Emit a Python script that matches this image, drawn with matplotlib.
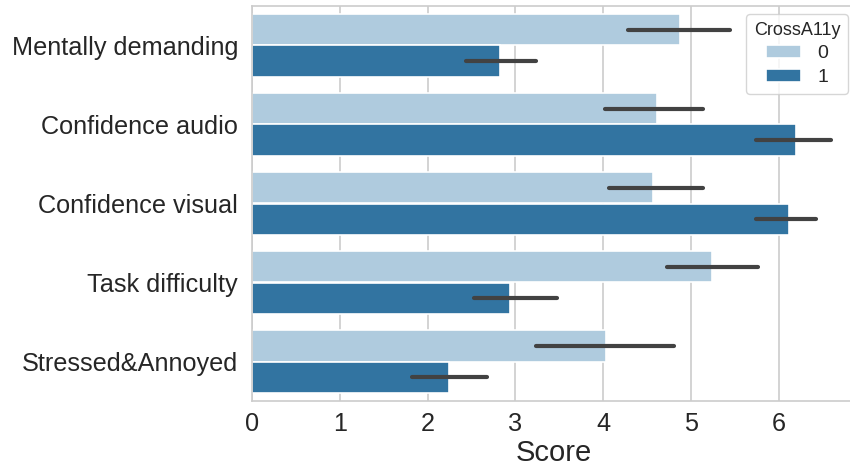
import numpy as np
import matplotlib
matplotlib.use("Agg")
import matplotlib.pyplot as plt

categories = ["Mentally demanding", "Confidence audio", "Confidence visual",
              "Task difficulty", "Stressed&Annoyed"]
hue_levels = ["0", "1"]
means_0 = [4.87, 4.61, 4.57, 5.24, 4.03]
ci_lo_0 = [4.28, 4.02, 4.07, 4.73, 3.24]
ci_hi_0 = [5.44, 5.14, 5.14, 5.76, 4.81]
means_1 = [2.82, 6.20, 6.12, 2.94, 2.24]
ci_lo_1 = [2.44, 5.74, 5.74, 2.53, 1.82]
ci_hi_1 = [3.23, 6.60, 6.43, 3.47, 2.68]
x_ticks = [0, 1, 2, 3, 4, 5, 6]

colors = ["#afcbde", "#3274a1"]
text_col = "#262626"
grid_col = "#cccccc"

plt.rcParams["font.family"] = ["Liberation Sans", "DejaVu Sans"]

fig = plt.figure(figsize=(8.5, 4.7), dpi=100)
W, H = 850.0, 470.0
ax = fig.add_axes([252 / W, 69 / H, (856 - 252) / W, (401 - 6) / H])

y = np.arange(len(categories))
bh = 0.4
series = [(means_0, ci_lo_0, ci_hi_0), (means_1, ci_lo_1, ci_hi_1)]
for k, (m, lo, hi) in enumerate(series):
    yy = y + (k - 0.5) * bh
    ax.barh(yy, m, height=bh, color=colors[k], edgecolor="white",
            linewidth=1.2, label=hue_levels[k], zorder=2)
    for yi, a, b in zip(yy, lo, hi):
        ax.plot([a, b], [yi, yi], color="#424242", lw=3.0,
                solid_capstyle="round", zorder=3)

ax.set_xlim(0, 6.88)
ax.set_ylim(len(categories) - 0.5, -0.5)
ax.set_yticks(y)
ax.set_yticklabels(categories)
ax.set_xticks(x_ticks)
ax.tick_params(axis="both", length=0, labelsize=18.2, colors=text_col)
ax.tick_params(axis="y", pad=10)
ax.tick_params(axis="x", pad=8)
ax.set_xlabel("Score", fontsize=21, color=text_col, labelpad=2)

ax.set_axisbelow(True)
ax.xaxis.grid(True, color=grid_col, lw=1.2)
ax.yaxis.grid(False)
for side in ["top", "left", "bottom", "right"]:
    ax.spines[side].set_color(grid_col)
    ax.spines[side].set_linewidth(1.2)

leg = ax.legend(title="CrossA11y", loc="upper right", fontsize=14,
                title_fontsize=13, handlelength=1.8, handleheight=0.6,
                frameon=True, borderaxespad=0.4, labelspacing=0.35)
leg.get_frame().set_edgecolor(grid_col)
for t in leg.get_texts():
    t.set_color(text_col)
leg.get_title().set_color(text_col)

fig.savefig("out.png", dpi=100)
